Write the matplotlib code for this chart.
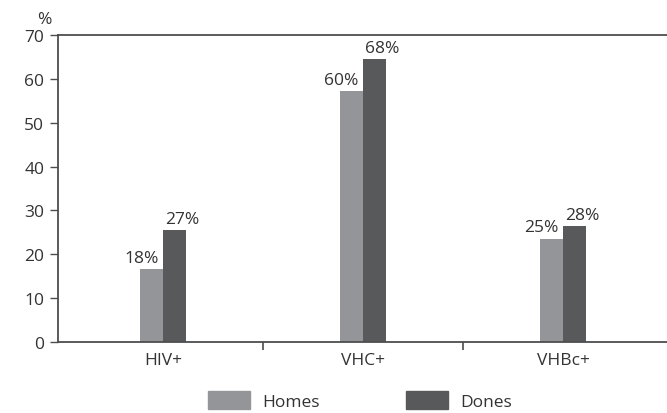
import matplotlib
matplotlib.use("Agg")
import matplotlib.pyplot as plt
import numpy as np
from matplotlib.patches import Patch

categories = ["HIV+", "VHC+", "VHBc+"]
homes = [16.6, 57.2, 23.5]
dones = [25.5, 64.5, 26.4]
homes_labels = ["18%", "60%", "25%"]
dones_labels = ["27%", "68%", "28%"]
yticks = [0, 10, 20, 30, 40, 50, 60, 70]

c_homes = "#939598"
c_dones = "#58595b"
txt = "#333333"
axc = "#4d4d4d"

plt.rcParams['font.family'] = ['Open Sans', 'DejaVu Sans']
fs = 12.5

fig = plt.figure(figsize=(6.67, 4.14), dpi=100)
ax = fig.add_axes([0.087, 0.1715, 0.913, 0.7415])

x = np.arange(len(categories))
w = 0.115
b1 = ax.bar(x - w / 2, homes, w, color=c_homes)
b2 = ax.bar(x + w / 2, dones, w, color=c_dones)

for rect, lab in zip(b1, homes_labels):
    ax.text(rect.get_x() + rect.get_width() / 2 - 0.05, rect.get_height() + 0.8, lab,
            ha="center", va="bottom", fontsize=fs, color=txt)
for rect, lab in zip(b2, dones_labels):
    ax.text(rect.get_x() + rect.get_width() / 2 + 0.04, rect.get_height() + 0.8, lab,
            ha="center", va="bottom", fontsize=fs, color=txt)

ax.set_xlim(-0.525, 2.52)
ax.set_ylim(0, 70)
ax.set_yticks(yticks)
ax.set_yticklabels([str(v) for v in yticks], fontsize=fs, color=txt)
ax.set_xticks(x)
ax.set_xticklabels(categories, fontsize=fs, color=txt)
ax.tick_params(axis="x", which="major", length=0, pad=7)
ax.set_xticks([0.5, 1.5], minor=True)
ax.tick_params(axis="x", which="minor", length=6, width=1.2, color=axc, direction="out")
ax.tick_params(axis="y", length=6, width=1.0, color=axc, direction="out", pad=4)

for s in ["left", "bottom", "top"]:
    ax.spines[s].set_color(axc)
    ax.spines[s].set_linewidth(1.3)
ax.spines["right"].set_visible(False)

ax.text(-0.035, 1.025, "%", transform=ax.transAxes, fontsize=fs, color=txt, ha="left", va="bottom")

handles = [Patch(color=c_homes, label="Homes"), Patch(color=c_dones, label="Dones")]
fig.legend(handles=handles, loc="lower center", bbox_to_anchor=(0.54, -0.03), ncol=2,
           frameon=False, fontsize=fs, handlelength=2.4, handleheight=1.15,
           columnspacing=5.0, handletextpad=0.7, labelcolor=txt)

fig.savefig("out.png", dpi=100)
